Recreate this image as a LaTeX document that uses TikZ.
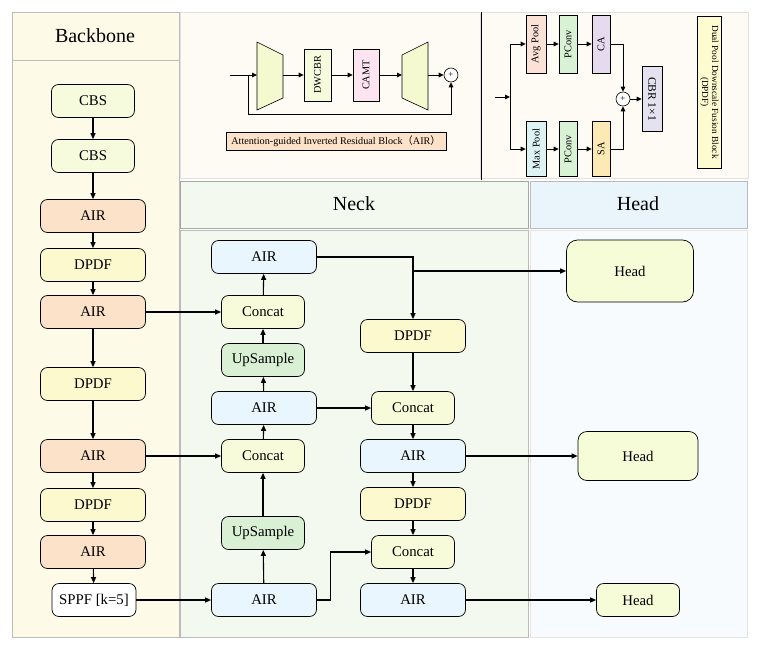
\documentclass[tikz,border=0pt]{standalone}
\usepackage{fontspec}
\setmainfont{Liberation Serif}
\newfontfamily\cjkfont{Noto Sans CJK SC}
\usetikzlibrary{arrows.meta}
\definecolor{bbfill}{HTML}{FDFBE7}
\definecolor{topfill}{HTML}{FDFBF3}
\definecolor{neckfill}{HTML}{F3F9EF}
\definecolor{headhdr}{HTML}{E9F5FB}
\definecolor{headfill}{HTML}{F7FBFD}
\definecolor{panelline}{HTML}{BBBBBB}
\definecolor{cbsfill}{HTML}{F5FBDC}
\definecolor{airB}{HTML}{FCE2C8}
\definecolor{dpdffill}{HTML}{FDF9CF}
\definecolor{airN}{HTML}{EAF6FD}
\definecolor{concatfill}{HTML}{F7FBD9}
\definecolor{upfill}{HTML}{D9F0D4}
\definecolor{headnode}{HTML}{F6FBD8}
\definecolor{trapfill}{HTML}{F4F9CF}
\definecolor{camtfill}{HTML}{FCE4F0}
\definecolor{avgfill}{HTML}{FCE1D6}
\definecolor{pconvfill}{HTML}{D9F2D5}
\definecolor{cafill}{HTML}{E6DAEE}
\definecolor{maxfill}{HTML}{DDF3F3}
\definecolor{safill}{HTML}{FDE9B4}
\definecolor{cbrfill}{HTML}{E3E2EE}
\definecolor{titlefill}{HTML}{FDFBD0}
\tikzset{
  panel/.style={draw=panelline, line width=0.7pt},
  box/.style={draw, rounded corners=7pt, line width=0.7pt, minimum height=33pt, inner sep=0pt, font=\fontsize{14.8}{16}\selectfont},
  wide/.style={box, minimum width=105pt},
  narrow/.style={box, minimum width=83pt},
  arr/.style={-{Triangle[length=6pt,width=5pt]}, line width=1.1pt},
  sarr/.style={-{Triangle[length=5pt,width=4.5pt]}, line width=1pt},
  vbox/.style={draw, line width=0.6pt, inner sep=0pt, font=\fontsize{10.3}{11}\selectfont},
  hdr/.style={font=\fontsize{20}{22}\selectfont}
}
\begin{document}
\begin{tikzpicture}[x=1pt,y=-1pt]
\useasboundingbox (0,0) rectangle (758,645);
\fill[white] (0,0) rectangle (758,645);
% panels
\fill[bbfill] (12,12) rectangle (179,637);
\draw[panel] (12,12) rectangle (179,637);
\draw[panel] (12,60) -- (179,60);
\node[hdr] (tbb) at (95,36) {Backbone};
\fill[topfill] (180,12) rectangle (480,178);
\draw[draw=black!12] (180,12) rectangle (480,178);
\fill[topfill] (481,12) rectangle (748,178);
\draw[draw=black!12] (481,12) rectangle (748,178);
\draw[line width=0.8pt] (481,12) -- (481,180);
\fill[neckfill] (180,181) rectangle (528,228);
\draw[draw=black!35, line width=0.8pt] (180,181) rectangle (528,228);
\fill[neckfill] (180,230) rectangle (528,637);
\draw[panel] (180,230) rectangle (528,637);
\node[hdr] (tneck) at (354,204) {Neck};
\fill[headhdr] (530,181) rectangle (747,228);
\draw[panel] (530,181) rectangle (747,228);
\fill[headfill] (530,230) rectangle (747,637);
\draw[draw=black!10] (530,230) rectangle (747,637);
\node[hdr] (thead) at (638,204) {Head};

% AIR block panel
\filldraw[fill=trapfill, draw=black, line width=0.6pt] (257,42) -- (283,55) -- (283,98) -- (257,110) -- cycle;
\filldraw[fill=trapfill, draw=black, line width=0.6pt] (402,55) -- (428,42) -- (428,110) -- (402,98) -- cycle;
\coordinate (ain) at (230,75);
\coordinate (asplit) at (248,75);
\coordinate (t1in) at (257,75);
\coordinate (t1out) at (283,75);
\coordinate (t2in) at (402,75);
\coordinate (t2out) at (428,75);
\node[vbox, fill=cbsfill, minimum width=27pt, minimum height=52pt] (dw) at (317.5,75) {\rotatebox{90}{DWCBR}};
\node[vbox, fill=camtfill, minimum width=26pt, minimum height=52pt] (camt) at (366,75) {\rotatebox{90}{CAMT}};
\node[draw, circle, fill=white, line width=0.6pt, minimum size=14pt, inner sep=0pt, font=\fontsize{9}{9}\selectfont] (plus) at (451,75) {+};
\draw[sarr] (ain) -- (t1in);
\draw[sarr] (t1out) -- (dw);
\draw[sarr] (dw) -- (camt);
\draw[sarr] (camt) -- (t2in);
\draw[sarr] (t2out) -- (plus);
\draw[sarr] (asplit) -- (248,114) -| (plus.south);
\node[draw, fill=airB, line width=0.6pt, minimum width=220pt, minimum height=18pt, inner sep=0pt, font=\fontsize{10.2}{11}\selectfont] (airlbl) at (336,141) {Attention-guided Inverted Residual Block{\cjkfont （}AIR{\cjkfont ）}};

% DPDF panel
\coordinate (din) at (495,97);
\coordinate (dsplit) at (510,97);
\node[vbox, fill=avgfill, minimum width=20pt, minimum height=58pt] (avg) at (536,44) {\rotatebox{90}{Avg Pool}};
\node[vbox, fill=pconvfill, minimum width=18pt, minimum height=58pt] (pc1) at (568,44) {\rotatebox{90}{PConv}};
\node[vbox, fill=cafill, minimum width=18pt, minimum height=58pt] (ca) at (601,44) {\rotatebox{90}{CA}};
\node[vbox, fill=maxfill, minimum width=20pt, minimum height=55pt] (maxp) at (536,149) {\rotatebox{90}{Max Pool}};
\node[vbox, fill=pconvfill, minimum width=18pt, minimum height=55pt] (pc2) at (568,149) {\rotatebox{90}{PConv}};
\node[vbox, fill=safill, minimum width=18pt, minimum height=55pt] (sa) at (601,149) {\rotatebox{90}{SA}};
\node[draw, circle, fill=white, line width=0.6pt, minimum size=14pt, inner sep=0pt, font=\fontsize{9}{9}\selectfont] (plus2) at (623,99) {+};
\node[vbox, fill=cbrfill, minimum width=20pt, minimum height=65pt, font=\fontsize{11.5}{12}\selectfont] (cbr) at (652,99) {\rotatebox{-90}{CBR 1×1}};
\node[vbox, fill=titlefill, minimum width=24pt, minimum height=152pt, font=\fontsize{9.3}{10}\selectfont] (dtitle) at (709,92) {\rotatebox{-90}{\begin{tabular}{@{}c@{}}Dual Pool Downscale Fusion Block\\(DPDF)\end{tabular}}};
\draw[sarr] (din) -- (dsplit);
\draw[sarr] (dsplit) |- (avg.west);
\draw[sarr] (dsplit) |- (maxp.west);
\draw[sarr] (avg) -- (pc1);
\draw[sarr] (pc1) -- (ca);
\draw[sarr] (maxp) -- (pc2);
\draw[sarr] (pc2) -- (sa);
\draw[sarr] (ca.east) -| (plus2.north);
\draw[sarr] (sa.east) -| (plus2.south);
\draw[sarr] (plus2) -- (cbr);

% Backbone nodes
\node[narrow, fill=cbsfill] (b1) at (93,101) {CBS};
\node[narrow, fill=cbsfill] (b2) at (93,156) {CBS};
\node[wide, fill=airB] (b3) at (93,216) {AIR};
\node[wide, fill=dpdffill] (b4) at (93,265) {DPDF};
\node[wide, fill=airB] (b5) at (93,312) {AIR};
\node[wide, fill=dpdffill] (b6) at (93,384) {DPDF};
\node[wide, fill=airB] (b7) at (93,456) {AIR};
\node[wide, fill=dpdffill] (b8) at (93,505) {DPDF};
\node[wide, fill=airB] (b9) at (93,552) {AIR};
\node[narrow, fill=white, minimum width=84pt] (b10) at (94,600) {SPPF [k=5]};

% Neck nodes
\node[wide, fill=airN] (n1) at (264,257) {AIR};
\node[narrow, fill=concatfill] (n2) at (263,312) {Concat};
\node[narrow, fill=upfill] (n3) at (263,360) {UpSample};
\node[wide, fill=airN] (n4) at (264,408) {AIR};
\node[narrow, fill=concatfill] (n5) at (263,456) {Concat};
\node[narrow, fill=upfill] (n6) at (263,533) {UpSample};
\node[wide, fill=airN] (n7) at (264,600) {AIR};
\node[wide, fill=dpdffill] (m1) at (413,336) {DPDF};
\node[narrow, fill=concatfill] (m2) at (413,408) {Concat};
\node[wide, fill=airN] (m3) at (413,456) {AIR};
\node[wide, fill=dpdffill] (m4) at (413,504) {DPDF};
\node[narrow, fill=concatfill] (m5) at (413,552) {Concat};
\node[wide, fill=airN] (m6) at (413,600) {AIR};

% Head nodes
\node[box, fill=headnode, rounded corners=11pt, minimum width=127pt, minimum height=62pt] (h1) at (630,271) {Head};
\node[box, fill=headnode, rounded corners=9pt, minimum width=120pt, minimum height=49pt] (h2) at (638,456) {Head};
\node[box, fill=headnode, minimum width=83pt] (h3) at (638,600) {Head};

% Backbone edges
\draw[arr] (b1) -- (b2);
\draw[arr] (b2) -- (b3);
\draw[arr] (b3) -- (b4);
\draw[arr] (b4) -- (b5);
\draw[arr] (b5) -- (b6);
\draw[arr] (b6) -- (b7);
\draw[arr] (b7) -- (b8);
\draw[arr] (b8) -- (b9);
\draw[arr] (b9) -- (b10);
% backbone to neck
\draw[arr] (b5) -- (n2);
\draw[arr] (b7) -- (n5);
\draw[arr] (b10) -- (n7);
% neck column 1 upward
\draw[arr] (n7) -- (n6);
\draw[arr] (n6) -- (n5);
\draw[arr] (n5) -- (n4);
\draw[arr] (n4) -- (n3);
\draw[arr] (n3) -- (n2);
\draw[arr] (n2) -- (n1);
% neck top to DPDF and head
\coordinate (jh) at (413,271);
\draw[arr] (n1.east) -| (m1.north);
\draw[arr] (jh) -- (h1.west);
% neck column 2 downward
\draw[arr] (n4) -- (m2);
\draw[arr] (m1) -- (m2);
\draw[arr] (m2) -- (m3);
\draw[arr] (m3) -- (m4);
\draw[arr] (m4) -- (m5);
\draw[arr] (m5) -- (m6);
\draw[arr] (n7.east) -- ++(14,0) |- (m5.west);
% to heads
\draw[arr] (m3) -- (h2);
\draw[arr] (m6) -- (h3);
\end{tikzpicture}
\end{document}
